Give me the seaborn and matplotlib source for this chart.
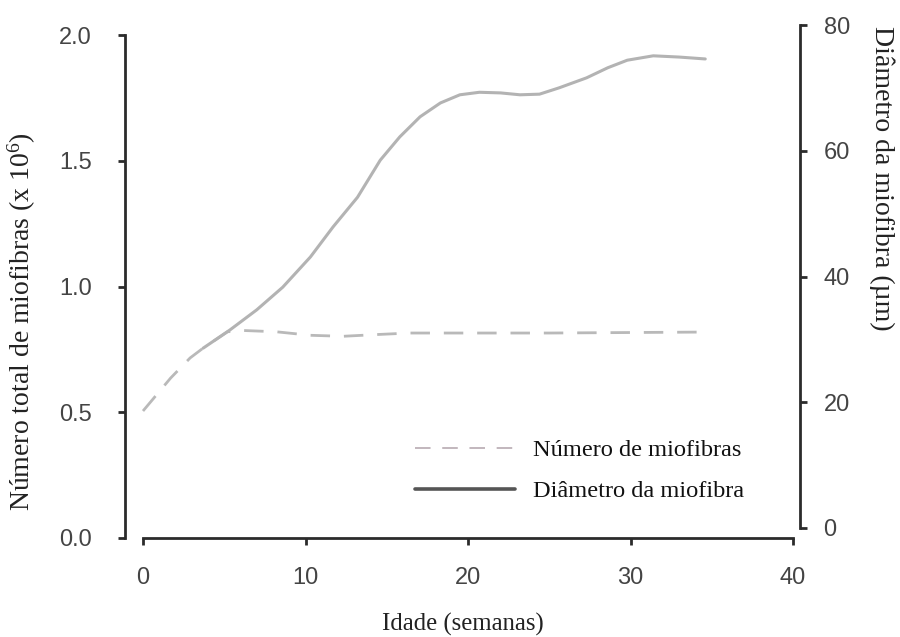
import matplotlib
matplotlib.use("Agg")
import matplotlib.pyplot as plt
from matplotlib.lines import Line2D
import seaborn as sns
import pandas as pd

# ---- data ----
weeks_num = [0, 1.7, 2.9, 3.7, 5.2, 6.2, 8.2, 10.3, 12.3, 14.4, 16.4, 20.0, 25.0, 30.0, 34.9]
num_fibers = [0.505, 0.636, 0.716, 0.755, 0.82, 0.825, 0.82, 0.806, 0.802, 0.809, 0.815, 0.815, 0.815, 0.817, 0.819]

weeks_diam = [3.7, 5.35, 7.0, 8.6, 10.3, 11.7, 13.2, 14.6, 15.8, 17.05, 18.3, 19.5, 20.7,
              22.0, 23.2, 24.4, 25.6, 27.3, 28.6, 29.8, 31.4, 33.0, 34.6]
diameter = [28.6, 31.5, 34.7, 38.3, 43.1, 47.9, 52.6, 58.5, 62.2, 65.4, 67.6, 68.9, 69.3,
            69.2, 68.9, 69.0, 70.0, 71.6, 73.2, 74.4, 75.1, 74.9, 74.6]

x_ticks = [0, 10, 20, 30, 40]
left_ticks = [0.0, 0.5, 1.0, 1.5, 2.0]
left_ticklabels = ["0.0", "0.5", "1.0", "1.5", "2.0"]
right_ticks = [0, 20, 40, 60, 80]

legend_labels = ["Número de miofibras", "Diâmetro da miofibra"]

df_num = pd.DataFrame({"Idade": weeks_num, "Numero": num_fibers})
df_diam = pd.DataFrame({"Idade": weeks_diam, "Diametro": diameter})

sns.set_theme(style="ticks")
plt.rcParams["font.family"] = ["Liberation Sans", "DejaVu Sans"]
plt.rcParams["mathtext.fontset"] = "custom"
plt.rcParams["mathtext.rm"] = "Liberation Serif"
plt.rcParams["mathtext.it"] = "Liberation Serif:italic"

W, H = 900, 637
fig = plt.figure(figsize=(9, 6.37), dpi=100)

def fx(px):
    return px / W

def fy(py):
    return 1 - py / H

# left axes: spine x=125, y from 35 (2.0) to 538 (0.0)
ax = fig.add_axes([fx(125), fy(538), (800 - 125) / W, (538 - 35) / H])
# right axes: 0 at y=528, 80 at y=25
ax2 = fig.add_axes([fx(125), fy(528), (800 - 125) / W, (528 - 25) / H], sharex=ax)
ax2.patch.set_alpha(0)

x0 = (125 - 143) / 16.25
x1 = (800 - 143) / 16.25
ax.set_xlim(x0, x1)
ax.set_ylim(0, 2.0)
ax2.set_ylim(0, 80)

spine_color = "#2b2b2b"
tick_color = "#444444"

sns.lineplot(data=df_num, x="Idade", y="Numero", ax=ax, color="#b9b9b9",
             linewidth=2.0, linestyle=(0, (7, 5)), legend=False)
sns.lineplot(data=df_diam, x="Idade", y="Diametro", ax=ax2, color="#b3b3b3",
             linewidth=2.2, legend=False)

# spines
for s in ["top", "right"]:
    ax.spines[s].set_visible(False)
for s in ["top", "left", "bottom"]:
    ax2.spines[s].set_visible(False)
ax.spines["left"].set_bounds(0, 2.0)
ax.spines["bottom"].set_bounds(0, 40)
ax2.spines["right"].set_bounds(0, 80)
for sp in [ax.spines["left"], ax.spines["bottom"], ax2.spines["right"]]:
    sp.set_color(spine_color)
    sp.set_linewidth(2.0)

ax.set_xticks(x_ticks)
ax.set_xticklabels([str(t) for t in x_ticks])
ax.set_yticks(left_ticks)
ax.set_yticklabels(left_ticklabels)
ax2.set_yticks(right_ticks)
ax2.set_yticklabels([str(t) for t in right_ticks])
ax2.tick_params(axis="x", which="both", bottom=False, labelbottom=False)

ax.tick_params(axis="x", direction="out", length=5, width=2.0, color=spine_color,
               labelsize=17, labelcolor=tick_color, pad=16)
ax.tick_params(axis="y", direction="out", length=5, width=2.0, color=spine_color,
               labelsize=17, labelcolor=tick_color, pad=19)
ax2.tick_params(axis="y", direction="out", length=5, width=2.0, color=spine_color,
                labelsize=17, labelcolor=tick_color, pad=12, left=False, right=True,
                labelleft=False, labelright=True)

serif = ["Liberation Serif", "DejaVu Serif"]
ax.set_xlabel("")
ax.set_ylabel("")
ax2.set_xlabel("")
ax2.set_ylabel("")
fig.text(fx(463), fy(624), "Idade (semanas)", family=serif, fontsize=17.8,
         color="#222222", ha="center", va="center")
fig.text(fx(22), fy(322), r"Número total de miofibras (x 10$^{6}$)", family=serif,
         fontsize=20, color="#222222", ha="center", va="center", rotation=90)
fig.text(fx(882), fy(178), "Diâmetro da miofibra (µm)", family=serif,
         fontsize=20, color="#222222", ha="center", va="center", rotation=270)

handles = [
    Line2D([0], [0], color="#c2b7bd", linewidth=1.4, linestyle=(0, (8, 6))),
    Line2D([0], [0], color="#555555", linewidth=2.6),
]
leg = ax.legend(handles, legend_labels, loc="upper left",
                bbox_to_anchor=(fx(415), fy(439)), bbox_transform=fig.transFigure,
                frameon=False, borderpad=0, borderaxespad=0,
                handlelength=4.1, handletextpad=0.74, labelspacing=0.78,
                prop={"family": serif, "size": 17.6})
for t in leg.get_texts():
    t.set_color("#111111")

fig.savefig("out.png", dpi=100, facecolor="white")
